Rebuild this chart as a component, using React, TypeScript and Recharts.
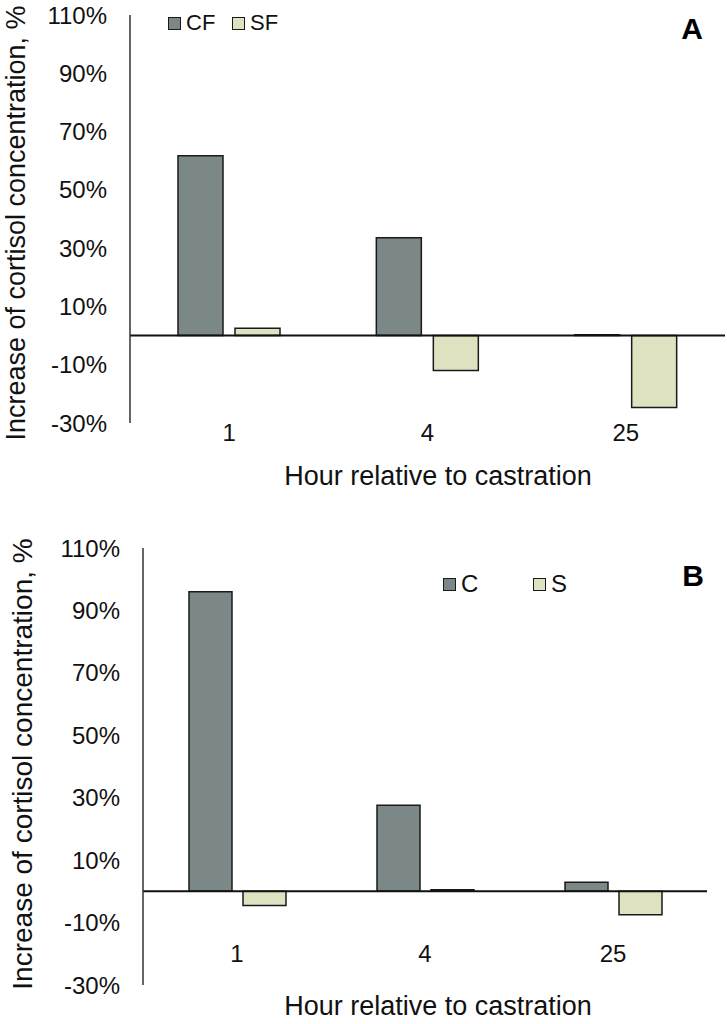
import React from 'react';
import { BarChart, Bar, XAxis, YAxis, ReferenceLine, Label } from 'recharts';

const hours = ['1', '4', '25'];
const cfValues = [61.7, 33.6, 0.3];
const sfValues = [2.5, -12.0, -24.7];
const cValues = [96.0, 27.6, 2.9];
const sValues = [-4.5, 0.5, -7.5];
const yTicks = [-30, -10, 10, 30, 50, 70, 90, 110];
const yTitle = 'Increase of cortisol concentration, %';
const xTitle = 'Hour relative to castration';

const dataA = hours.map((h, i) => ({ hour: h, CF: cfValues[i], SF: sfValues[i] }));
const dataB = hours.map((h, i) => ({ hour: h, C: cValues[i], S: sValues[i] }));

const FONT = "'Liberation Sans', Arial, Helvetica, sans-serif";
const DARK = '#7B8887';
const LIGHT = '#DEE2C1';
const EDGE = '#1a1a1a';
const TEXT = '#111';
const COLORS = [DARK, LIGHT];

type PanelProps = {
  data: any[];
  keys: [string, string];
  top: number;
  height: number;
  margin: { top: number; right: number; left: number; bottom: number };
  yAxisWidth: number;
  xAxisHeight: number;
  xTickMargin: number;
  barSize: number;
  barGap: number;
  yTitlePos: { x: number; y: number; size: number };
  xTitlePos: { x: number; y: number; size: number };
  letter: string;
  letterPos: { x: number; y: number };
  legendPos: { left: number; top: number; itemWidth: number; fontSize: number };
};

function LegendBox({ keys, pos }: { keys: string[]; pos: PanelProps['legendPos'] }) {
  return (
    <div
      style={{
        position: 'absolute',
        left: pos.left,
        top: pos.top,
        display: 'flex',
        alignItems: 'center',
        height: 28,
        fontFamily: FONT,
        fontSize: pos.fontSize,
        color: TEXT,
        lineHeight: '28px',
      }}
    >
      {keys.map((k, i) => (
        <div key={k} style={{ display: 'flex', alignItems: 'center', width: pos.itemWidth }}>
          <span
            style={{
              display: 'inline-block',
              width: 11,
              height: 11,
              background: COLORS[i],
              border: `1.5px solid ${EDGE}`,
              marginRight: 5,
            }}
          />
          <span>{k}</span>
        </div>
      ))}
    </div>
  );
}

function Panel(props: PanelProps) {
  const { data, keys, top, height, margin, yAxisWidth, xAxisHeight, xTickMargin, barSize, barGap, yTitlePos, xTitlePos, letter, letterPos, legendPos } = props;
  const tickStyle = { fontSize: 24, fill: TEXT, fontFamily: FONT };
  return (
    <div style={{ position: 'absolute', left: 0, top, width: 727, height }}>
      <BarChart width={727} height={height} data={data} margin={margin} barGap={barGap} barSize={barSize}>
        <XAxis
          dataKey="hour"
          height={xAxisHeight}
          axisLine={false}
          tickLine={false}
          tickSize={0}
          tickMargin={xTickMargin}
          tick={tickStyle}
          interval={0}
        >
          <Label
            content={() => (
              <text x={xTitlePos.x} y={xTitlePos.y} textAnchor="middle" fontSize={xTitlePos.size} fontFamily={FONT} fill={TEXT}>
                {xTitle}
              </text>
            )}
          />
          <Label
            content={() => (
              <text x={letterPos.x} y={letterPos.y} textAnchor="middle" fontSize={30} fontWeight="bold" fontFamily={FONT} fill="#000">
                {letter}
              </text>
            )}
          />
        </XAxis>
        <YAxis
          width={yAxisWidth}
          domain={[-30, 110]}
          ticks={yTicks}
          interval={0}
          tickFormatter={(v: number) => `${v}%`}
          axisLine={{ stroke: '#333', strokeWidth: 1.5 }}
          tickLine={false}
          tickSize={0}
          tickMargin={23}
          tick={tickStyle}
        >
          <Label
            content={() => (
              <text
                x={yTitlePos.x}
                y={yTitlePos.y}
                transform={`rotate(-90 ${yTitlePos.x} ${yTitlePos.y})`}
                textAnchor="middle"
                fontSize={yTitlePos.size}
                fontFamily={FONT}
                fill={TEXT}
              >
                {yTitle}
              </text>
            )}
          />
        </YAxis>
        <Bar dataKey={keys[0]} name={keys[0]} fill={DARK} stroke={EDGE} strokeWidth={1.5} isAnimationActive={false} />
        <Bar dataKey={keys[1]} name={keys[1]} fill={LIGHT} stroke={EDGE} strokeWidth={1.5} isAnimationActive={false} />
        <ReferenceLine y={0} stroke="#111" strokeWidth={2} />
      </BarChart>
      <LegendBox keys={keys} pos={legendPos} />
    </div>
  );
}

export default function App() {
  return (
    <div style={{ position: 'absolute', left: 0, top: 0, width: 727, height: 1024, background: '#fff' }}>
      <Panel
        data={dataA}
        keys={['CF', 'SF']}
        top={0}
        height={500}
        margin={{ top: 15, right: 2, left: 0, bottom: 0 }}
        yAxisWidth={130}
        xAxisHeight={77}
        xTickMargin={1}
        barSize={45}
        barGap={12}
        yTitlePos={{ x: 25, y: 223, size: 27 }}
        xTitlePos={{ x: 438, y: 485, size: 27 }}
        letter="A"
        letterPos={{ x: 692, y: 39 }}
        legendPos={{ left: 168, top: 9, itemWidth: 64, fontSize: 22 }}
      />
      <Panel
        data={dataB}
        keys={['C', 'S']}
        top={510}
        height={514}
        margin={{ top: 38, right: 20, left: 0, bottom: 0 }}
        yAxisWidth={143}
        xAxisHeight={39}
        xTickMargin={-40}
        barSize={43}
        barGap={11}
        yTitlePos={{ x: 32, y: 254, size: 28 }}
        xTitlePos={{ x: 438, y: 505, size: 27 }}
        letter="B"
        letterPos={{ x: 693, y: 76 }}
        legendPos={{ left: 443, top: 60, itemWidth: 90, fontSize: 24 }}
      />
    </div>
  );
}
